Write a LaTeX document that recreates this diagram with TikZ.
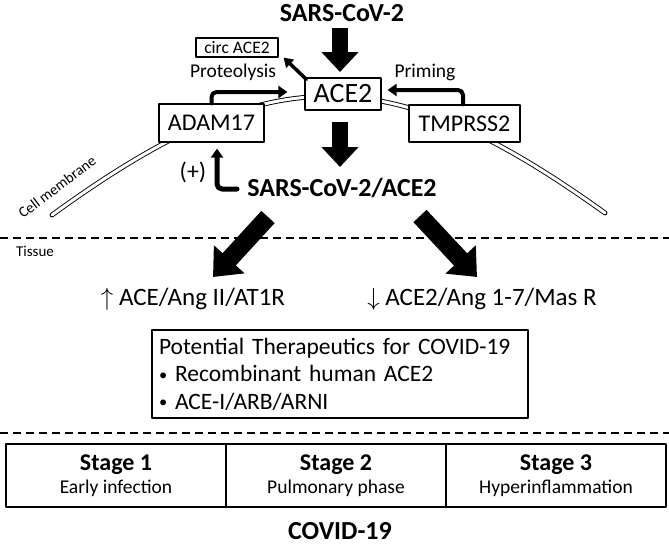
\documentclass[tikz,border=0pt]{standalone}
\usepackage{fontspec}
\setmainfont{Carlito}
\usetikzlibrary{arrows.meta}

\newcommand{\setfs}[2]{\fontsize{#1}{#2}\selectfont}
\newcommand{\smallbullet}{\raisebox{1.5pt}{\scalebox{0.7}{•}}}

\tikzset{
	box/.style={draw=black, fill=white, line width=1.2pt, inner sep=0pt},
	lbl/.style={inner sep=0pt},
	bigarrow/.style={line width=16pt, line cap=butt, -{Triangle[width=36pt,length=20pt]}},
	diagarrow/.style={line width=18pt, line cap=butt, -{Triangle[width=40pt,length=24pt]}},
	bentarrow/.style={line width=4pt, rounded corners=5pt, -{Triangle[width=12pt,length=9pt]}},
	membrane/.style={double, double distance=3pt, line width=0.9pt},
	cut/.style={line width=1.2pt, line cap=butt, dash pattern=on 8pt off 5pt},
}

\begin{document}
\begin{tikzpicture}[x=1pt, y=-1pt, line join=round, line cap=round]
			%			\draw[gray,step=20] (0,0) grid (669,544);
			\useasboundingbox (0,0) rectangle (669,544);
			\path
			(0,238) coordinate (d1l) (669,238) coordinate (d1r)
			(0,433) coordinate (d2l) (669,433) coordinate (d2r)
			(52,215) coordinate (ml) (605,213) coordinate (mr)
			;
			\draw[membrane] (ml) .. controls (269,57) and (388,57) .. (mr);
			
			\node[lbl, rotate=37, font=\setfs{15}{15}] (memb) at (57,187) {Cell membrane};
			\node[lbl, font=\bfseries\setfs{26}{26}] (sars) at (342,13) {SARS-CoV-2};
			\node[box, minimum width=82pt, minimum height=19pt, font=\setfs{17.5}{17.5}] (circ) at (237,47.5) {circ ACE2};
			\node[box, minimum width=76pt, minimum height=32pt, font=\setfs{28}{28}] (ace) at (343,94) {ACE2};
			\node[box, minimum width=105pt, minimum height=38pt, font=\setfs{24}{24}] (adam) at (211.5,123) {ADAM17};
			\node[box, minimum width=111pt, minimum height=37pt, font=\setfs{24}{24}] (tmprss) at (464.5,123.5) {TMPRSS2};
			\node[lbl, font=\setfs{19.5}{19.5}] (prot) at (233,72) {Proteolysis};
			\node[lbl, font=\setfs{19.5}{19.5}] (prim) at (425,72) {Priming};
			\node[lbl, font=\bfseries\setfs{26}{26}] (complex) at (342,188) {SARS-CoV-2/ACE2};
			\node[lbl, font=\setfs{24}{24}] (plus) at (193,172) {(+)};
			\node[lbl, font=\setfs{15}{15}] (tissue) at (35,251) {Tissue};
			\node[lbl, font=\setfs{25}{25}] (up) at (193,299) {$\uparrow$ ACE/Ang II/AT1R};
			\node[lbl, font=\setfs{25}{25}] (down) at (482,299) {$\downarrow$ ACE2/Ang 1-7/Mas R};
			\node[box, minimum width=376pt, minimum height=88pt, text width=362pt, align=left, font=\setfs{23.5}{27.5}] (thera) at (340,374)
			{Potential Therapeutics for COVID-19\\ \smallbullet\ Recombinant human ACE2\\ \smallbullet\ ACE-I/ARB/ARNI};
			
			\node[box, minimum width=220pt, minimum height=63pt, align=center, font=\setfs{19.5}{23}] (st1) at (116,475.5) {{\bfseries\setfs{24}{24}Stage 1}\\ Early infection};
			\node[box, minimum width=220pt, minimum height=63pt, align=center, font=\setfs{19.5}{23}] (st2) at (336,475.5) {{\bfseries\setfs{24}{24}Stage 2}\\ Pulmonary phase};
			\node[box, minimum width=220pt, minimum height=63pt, align=center, font=\setfs{19.5}{23}] (st3) at (556,475.5) {{\bfseries\setfs{24}{24}Stage 3}\\ Hyperinflammation};
			\node[lbl, font=\bfseries\setfs{26}{26}] (covid) at (340,531.5) {COVID-19};
			
			\draw[cut] (d1l) -- (d1r) (d2l) -- (d2r);
			\draw[bigarrow] ([shift={(-2pt,-15pt)}]sars.center) -- ([shift={(-3pt,22pt)}]ace.center);
			\draw[bigarrow] ([shift={(-3pt,-28pt)}]ace.center) -- ([shift={(-2pt,21pt)}]complex.center);
			\draw[diagarrow] ([shift={(-74pt,-29pt)}]complex.center) -- ([shift={(20pt,22pt)}]up.center);
			\draw[diagarrow] ([shift={(78pt,-28pt)}]complex.center) -- ([shift={(-5pt,22pt)}]down.center);
			\draw[bentarrow] (adam.north) |- ([shift={(-17pt,2pt)}]ace.west);
			\draw[bentarrow] ([xshift=-1.5pt]tmprss.north) |- ([shift={(6pt,4pt)}]ace.east);
			\draw[line width=3.5pt, -{Triangle[width=11pt,length=9pt]}] ([shift={(2pt,-2pt)}]ace.north west) -- ([xshift=5pt]circ.south east);
			\draw[bentarrow, line width=5pt] ([shift={(-105pt,-1pt)}]complex.center) -| ([shift={(5.5pt,-6pt)}]adam.south);
		\end{tikzpicture}
\end{document}
